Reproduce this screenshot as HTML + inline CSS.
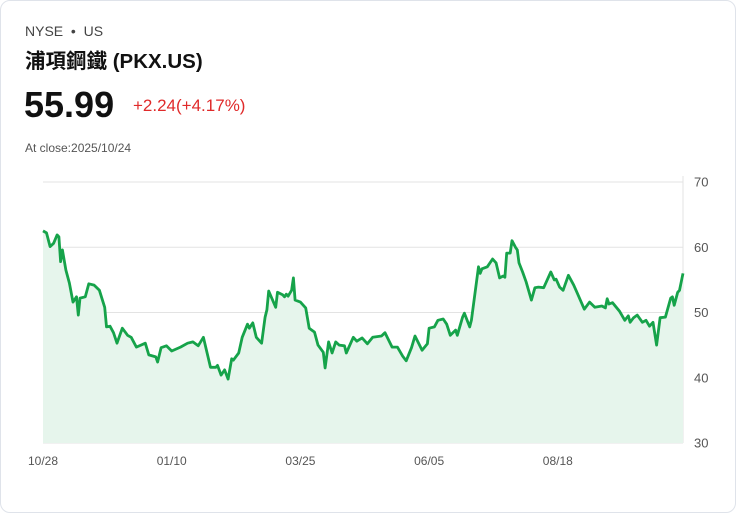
<!DOCTYPE html>
<html><head><meta charset="utf-8"><style>
body{margin:0;background:#fff;font-family:"Liberation Sans","Noto Sans CJK TC",sans-serif;}
.card{position:absolute;left:0;top:0;width:734px;height:511px;border:1px solid #dfe3ea;border-radius:10px;background:#fff;}
.t{position:absolute;white-space:nowrap;}
</style></head><body>
<div class="card"></div>
<div class="t" style="left:25px;top:23px;font-size:14px;color:#444;">NYSE &nbsp;•&nbsp; US</div>
<div class="t" style="left:25px;top:44px;font-size:20.5px;font-weight:bold;color:#111;">浦項鋼鐵 (PKX.US)</div>
<div class="t" style="left:24px;top:84px;font-size:36px;font-weight:bold;color:#111;">55.99</div>
<div class="t" style="left:133px;top:96px;font-size:17px;color:#e02a2a;">+2.24(+4.17%)</div>
<div class="t" style="left:25px;top:141px;font-size:12px;color:#555;">At close:2025/10/24</div>
<svg id="chart" width="736" height="513" style="position:absolute;left:0;top:0"></svg>
<script>
const days=[0,2,4,6,8,9,10,11,13,15,17,19,20,21,24,26,29,32,35,36,38,40,42,45,48,50,53,58,60,64,65,67,70,73,78,82,85,88,91,95,98,99,101,103,105,107,108,111,113,116,117,119,121,124,126,127,128,132,133,136,137,138,139,141,142,143,146,149,151,154,156,159,160,162,164,166,168,171,172,176,178,181,184,187,192,194,198,201,204,206,209,211,215,218,219,222,224,227,229,231,234,235,238,239,242,243,247,248,249,252,255,257,259,261,262,263,265,266,268,269,270,272,274,277,279,281,284,286,288,290,291,293,295,298,301,303,307,310,313,317,319,320,321,323,327,330,332,333,335,337,340,342,344,346,348,350,353,356,357,358,360,361,363];
const prices=[62.5,62.2,60.1,60.6,61.9,61.6,57.8,59.6,56.5,54.5,51.6,52.4,49.6,52.2,52.4,54.4,54.2,53.4,50.8,47.8,47.9,46.9,45.3,47.6,46.5,46.2,44.7,45.3,43.5,43.2,42.4,44.6,44.9,44.1,44.7,45.3,45.5,44.9,46.2,41.6,41.6,41.9,40.4,41.2,39.8,42.9,42.7,43.8,46.2,48.2,47.6,48.4,46.2,45.3,49.3,50.4,53.3,50.8,53.1,52.7,52.4,52.8,52.5,53.4,55.3,51.9,51.6,50.7,47.6,47.0,45.0,43.9,41.5,45.5,43.8,45.5,45.0,44.9,43.8,46.2,45.6,46.1,45.2,46.2,46.4,46.9,44.7,44.7,43.3,42.6,44.6,46.4,44.2,45.2,47.6,47.8,48.8,49.0,48.2,46.5,47.3,46.5,49.3,49.9,47.8,48.8,57.0,56.0,56.7,57.0,58.2,57.6,55.3,55.6,55.4,59.1,59.1,61.0,60.0,59.6,57.6,56.2,54.7,51.9,53.8,53.9,53.8,55.0,56.2,55.0,55.1,53.9,53.4,55.7,54.2,53.0,50.5,51.6,50.8,51.0,50.7,52.1,51.3,51.5,50.2,48.8,49.5,48.5,49.2,49.6,48.5,48.8,47.9,48.5,45.0,49.2,49.3,52.2,52.4,51.1,53.1,53.4,55.99];
const yTicks=[30,40,50,60,70];
const xTickLabels=["10/28","01/10","03/25","06/05","08/18"];
const xTickDays=[0,73,146,219,292];
const NS="http://www.w3.org/2000/svg";
const svg=document.getElementById('chart');
const X0=43,X1=683,Y30=443,Y70=182,DMAX=363;
function xs(d){return X0+(X1-X0)*d/DMAX;}
function ys(v){return Y30+(Y70-Y30)*(v-30)/40;}
function mk(t,a){const e=document.createElementNS(NS,t);for(const k in a)e.setAttribute(k,a[k]);svg.appendChild(e);return e;}
yTicks.forEach(v=>{
  const l=mk('line',{x1:X0,x2:X1,y1:ys(v),y2:ys(v),stroke:'#e3e3e3','stroke-width':1});
  
  
  const t=mk('text',{x:694,y:ys(v)+4.5,'font-size':13,fill:'#555','font-family':'Liberation Sans'});
  t.textContent=v;
  
  
});
const ax=mk('line',{x1:X1,x2:X1,y1:176,y2:443,stroke:'#e3e3e3','stroke-width':1});


xTickLabels.forEach((s,i)=>{
  const t=mk('text',{x:xs(xTickDays[i]),y:465,'font-size':12,fill:'#555','text-anchor':'middle','font-family':'Liberation Sans'});
  t.textContent=s;
  
  
});
let d='';
days.forEach((dd,i)=>{d+=(i?'L':'M')+xs(dd).toFixed(1)+','+ys(prices[i]).toFixed(1);});
const area=mk('path',{d:d+'L'+xs(days[days.length-1])+','+Y30+'L'+xs(days[0])+','+Y30+'Z',fill:'#e6f5ec'});


const line=mk('path',{d:d,fill:'none',stroke:'#16a34a','stroke-width':2.8,'stroke-linejoin':'round'});


</script>
</body></html>
